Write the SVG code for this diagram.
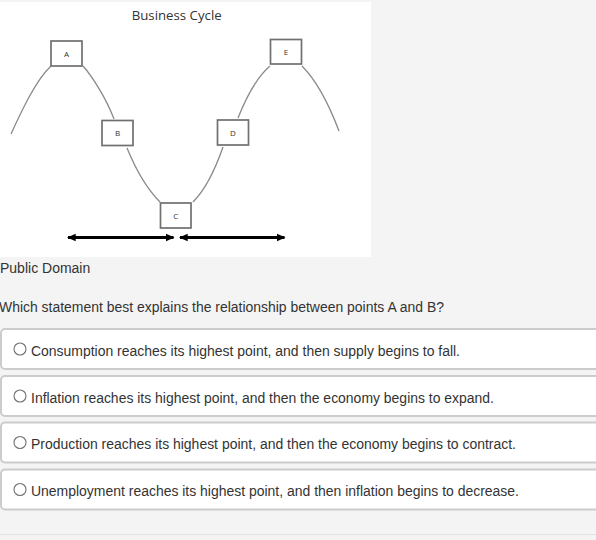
<svg xmlns="http://www.w3.org/2000/svg" width="596" height="540" viewBox="0 0 596 540">
<style>
.curve{fill:none;stroke:#8a8a8a;stroke-width:1.3}
.box{fill:#fff;stroke:#707070;stroke-width:1.7}
.lbl{font-family:"Open Sans","DejaVu Sans",sans-serif;font-size:8px;fill:#333;text-anchor:middle}
.arrow{stroke:#000;stroke-width:3.2;fill:none}
.opt{fill:#fff;stroke:#cccccc;stroke-width:2}
.radio{fill:#fff;stroke:#707070;stroke-width:1.1}
.otext{font-family:"Liberation Sans",Arial,sans-serif;font-size:14px;fill:#333}
.qtext{font-family:"Liberation Sans",Arial,sans-serif;font-size:14px;fill:#333}
</style>
<defs>
<marker id="ah" viewBox="0 0 10 10" refX="8" refY="5" markerWidth="3" markerHeight="3" orient="auto-start-reverse" markerUnits="strokeWidth">
<path d="M0,1 L9,5 L0,9 Z" fill="#000"/>
</marker>
</defs>
<rect x="0" y="0" width="596" height="540" fill="#f4f4f4"/>
<rect x="0" y="2" width="371" height="255" fill="#ffffff"/>
<text x="176.7" y="19.5" font-family="'Open Sans','Noto Sans',sans-serif" font-size="13" fill="#333" text-anchor="middle" textLength="90" lengthAdjust="spacingAndGlyphs">Business Cycle</text>
<g id="connectors">
<path class="curve" d="M11,134 C22,110 36,80 51,66"/>
<path class="curve" d="M83,66 C92,76 106,98 114,119"/>
<path class="curve" d="M127,148 C136,170 148,190 160,202"/>
<path class="curve" d="M193,202 C205,190 215,170 223,147"/>
<path class="curve" d="M238,118 C246,98 258,76 270,66"/>
<path class="curve" d="M302,66 C314,78 328,102 339,131"/>
<line class="arrow" x1="68" y1="237.5" x2="173.5" y2="237.5" marker-start="url(#ah)" marker-end="url(#ah)"/>
<line class="arrow" x1="180" y1="237.5" x2="284.5" y2="237.5" marker-start="url(#ah)" marker-end="url(#ah)"/>
</g>
<g id="node-A"><rect class="box" x="51" y="41" width="31" height="25"/><text class="lbl" x="66.5" y="56.5">A</text></g>
<g id="node-B"><rect class="box" x="102" y="120.5" width="31" height="25"/><text class="lbl" x="117.5" y="136">B</text></g>
<g id="node-C"><rect class="box" x="160.5" y="203" width="30.5" height="25"/><text class="lbl" x="175.7" y="219">C</text></g>
<g id="node-D"><rect class="box" x="217.5" y="120" width="31" height="25"/><text class="lbl" x="233" y="135.5">D</text></g>
<g id="node-E"><rect class="box" x="270.5" y="39.5" width="31" height="24.5"/><text class="lbl" x="286" y="55">E</text></g>
<text class="qtext" x="0" y="273" font-size="13.5">Public Domain</text>
<text class="qtext" x="-1" y="311.5" textLength="445" lengthAdjust="spacingAndGlyphs">Which statement best explains the relationship between points A and B?</text>
<g id="option-1">
<rect class="opt" x="1" y="329" width="610" height="40" rx="4"/>
<circle class="radio" cx="20" cy="349" r="6"/>
<text class="otext" x="31" y="355.5" textLength="429" lengthAdjust="spacingAndGlyphs">Consumption reaches its highest point, and then supply begins to fall.</text>
</g>
<g id="option-2">
<rect class="opt" x="1" y="376" width="610" height="40" rx="4"/>
<circle class="radio" cx="20" cy="396" r="6"/>
<text class="otext" x="31" y="402.5" textLength="463" lengthAdjust="spacingAndGlyphs">Inflation reaches its highest point, and then the economy begins to expand.</text>
</g>
<g id="option-3">
<rect class="opt" x="1" y="422.5" width="610" height="40" rx="4"/>
<circle class="radio" cx="20" cy="442.5" r="6"/>
<text class="otext" x="31" y="449" textLength="485" lengthAdjust="spacingAndGlyphs">Production reaches its highest point, and then the economy begins to contract.</text>
</g>
<g id="option-4">
<rect class="opt" x="1" y="469.5" width="610" height="40" rx="4"/>
<circle class="radio" cx="20" cy="489.5" r="6"/>
<text class="otext" x="31" y="496" textLength="488" lengthAdjust="spacingAndGlyphs">Unemployment reaches its highest point, and then inflation begins to decrease.</text>
</g>
<line x1="0" y1="534.5" x2="596" y2="534.5" stroke="#e2e2e2" stroke-width="1"/>
</svg>
